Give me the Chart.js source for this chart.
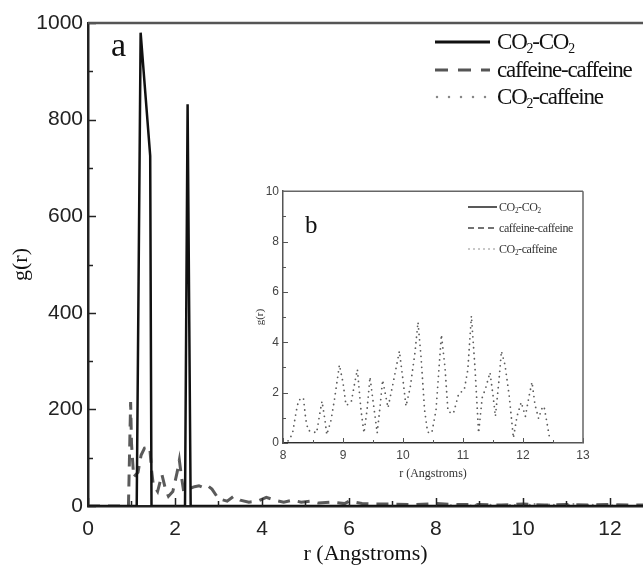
<!DOCTYPE html>
<html>
<head>
<meta charset="utf-8">
<script src="https://cdn.jsdelivr.net/npm/chart.js@4/dist/chart.umd.min.js"></script>
<style>
  body { margin: 0; background: #fff; }
  #wrap { position: relative; width: 643px; height: 571px; overflow: hidden; background: #fff; }
  #inset { position: absolute; left: 240px; top: 180px; }
  .serif { font-family: "Liberation Serif", "Times New Roman", serif; color: #111; }
  .lg { position: absolute; display: flex; align-items: center; white-space: nowrap; }
  .lg sub { font-size: 60%; vertical-align: -0.3em; line-height: 0; }
  .big { font-size: 23px; letter-spacing: -1.2px; height: 28px; }
  .small { font-size: 12px; letter-spacing: -0.4px; height: 16px; color: #333; }
  .tag { position: absolute; line-height: 1; }
</style>
</head>
<body>
<div id="wrap">
  <canvas id="main" width="643" height="571"></canvas>
  <canvas id="inset" width="370" height="305"></canvas>

  <div class="tag serif" style="left:111px; top:28px; font-size:34px;">a</div>
  <div class="tag serif" style="left:305px; top:212px; font-size:25px;">b</div>

  <div class="lg serif big" style="left:435px; top:28px;">
    <svg width="56" height="28"><line x1="0" y1="14" x2="55" y2="14" stroke="#111" stroke-width="3"/></svg>
    <span style="margin-left:6px">CO<sub>2</sub>-CO<sub>2</sub></span>
  </div>
  <div class="lg serif big" style="left:435px; top:56px;">
    <svg width="56" height="28"><line x1="0" y1="14" x2="55" y2="14" stroke="#555" stroke-width="3" stroke-dasharray="13 10"/></svg>
    <span style="margin-left:6px">caffeine-caffeine</span>
  </div>
  <div class="lg serif big" style="left:435px; top:83px;">
    <svg width="56" height="28"><line x1="2" y1="14" x2="55" y2="14" stroke="#888" stroke-width="2.5" stroke-linecap="round" stroke-dasharray="0 12"/></svg>
    <span style="margin-left:6px">CO<sub>2</sub>-caffeine</span>
  </div>

  <div class="lg serif small" style="left:468px; top:199px;">
    <svg width="30" height="16"><line x1="0" y1="8" x2="29" y2="8" stroke="#222" stroke-width="1.5"/></svg>
    <span style="margin-left:1px">CO<sub>2</sub>-CO<sub>2</sub></span>
  </div>
  <div class="lg serif small" style="left:468px; top:220px;">
    <svg width="30" height="16"><line x1="0" y1="8" x2="29" y2="8" stroke="#444" stroke-width="1.5" stroke-dasharray="6 4"/></svg>
    <span style="margin-left:1px">caffeine-caffeine</span>
  </div>
  <div class="lg serif small" style="left:468px; top:241px;">
    <svg width="30" height="16"><line x1="1" y1="8" x2="29" y2="8" stroke="#777" stroke-width="1.5" stroke-linecap="round" stroke-dasharray="0 5"/></svg>
    <span style="margin-left:1px">CO<sub>2</sub>-caffeine</span>
  </div>
</div>

<script>
// main panel (a): r in Angstroms, g(r)
const co2co2R = [0, 1.12, 1.21, 1.43, 1.46, 2.23, 2.29, 2.36, 12.8];
const co2co2G = [0, 0, 980, 725, 0, 0, 832, 0, 0];

const cafR = [0, 0.93, 0.98, 1.0, 1.05, 1.15, 1.22, 1.3, 1.42, 1.46, 1.5, 1.6, 1.7, 1.78, 1.85,
  1.95, 2.05, 2.1, 2.15, 2.2, 2.3, 2.45, 2.55, 2.65, 2.75, 2.85, 3.0, 3.2, 3.35, 3.5, 3.7,
  3.9, 4.1, 4.3, 4.5, 4.7, 4.9, 5.1, 5.3, 5.6, 5.9, 6.0, 6.3, 6.6, 7.0, 7.5, 8.0, 8.5, 9.0,
  9.5, 10.0, 10.5, 11.0, 11.5, 12.0, 12.5, 12.8];
const cafG = [0, 0, 215, 130, 60, 70, 105, 120, 122, 75, 45, 30, 65, 35, 20,
  30, 70, 95, 60, 30, 35, 40, 42, 38, 42, 35, 15, 10, 20, 12, 8,
  10, 18, 12, 8, 12, 8, 10, 6, 8, 5, 10, 5, 4, 4, 3, 5, 3, 3,
  2, 4, 2, 3, 2, 3, 2, 2];

// panel (b): CO2-caffeine
const co2cafR = [8.0, 8.1, 8.16, 8.22, 8.26, 8.34, 8.38, 8.42, 8.5, 8.56, 8.62, 8.65, 8.7, 8.73,
  8.8, 8.86, 8.94, 9.0, 9.05, 9.1, 9.14, 9.2, 9.24, 9.3, 9.35, 9.4, 9.45, 9.5, 9.57, 9.62,
  9.66, 9.71, 9.75, 9.83, 9.94, 10.0, 10.05, 10.12, 10.2, 10.25, 10.3, 10.36, 10.41, 10.48,
  10.55, 10.64, 10.7, 10.75, 10.84, 10.93, 11.02, 11.08, 11.14, 11.2, 11.26, 11.32, 11.38,
  11.45, 11.5, 11.54, 11.6, 11.64, 11.7, 11.77, 11.84, 11.9, 11.97, 12.04, 12.1, 12.15,
  12.2, 12.26, 12.31, 12.35, 12.4, 12.45];
const co2cafG = [0.0, 0.1, 0.4, 1.25, 1.7, 1.8, 0.93, 0.5, 0.45, 0.4, 1.26, 1.66, 0.9, 0.33,
  0.9, 1.76, 3.1, 2.4, 1.5, 1.55, 1.66, 2.45, 2.92, 1.3, 0.4, 1.3, 2.62, 1.68, 0.4, 1.5,
  2.5, 1.9, 1.4, 2.32, 3.65, 2.5, 1.46, 2.2, 3.6, 4.8, 3.44, 1.3, 0.43, 0.4,
  1.3, 4.3, 3.0, 1.25, 1.17, 1.97, 2.1, 2.9, 5.05, 2.98, 0.4, 1.8, 2.2,
  2.8, 1.9, 1.06, 2.5, 3.65, 3.1, 1.88, 0.2, 1.06, 1.62, 1.06, 1.85, 2.42,
  1.52, 0.97, 1.35, 1.46, 0.8, 0.1];

const insetZeroR = [8, 12.5];
const insetZeroG = [0, 0];

// tick labels
const mainXTicks = [0, 2, 4, 6, 8, 10, 12];
const mainYTicks = [0, 200, 400, 600, 800, 1000];
const insetXTicks = [8, 9, 10, 11, 12, 13];
const insetYTicks = [0, 2, 4, 6, 8, 10];

const pts = (xs, ys) => xs.map((x, i) => ({ x, y: ys[i] }));
const mids = arr => arr.slice(0, -1).map((v, i) => (v + arr[i + 1]) / 2);
const plain = v => String(v);

const sans = "'Liberation Sans Narrow', 'Arial Narrow', 'Liberation Sans', Arial, sans-serif";
const serif = "'Liberation Serif', 'Times New Roman', serif";

// inward tick marks + top frame line
const innerTicks = {
  id: 'innerTicks',
  afterDraw(chart, args, o) {
    const { ctx, chartArea: a, scales: { x, y } } = chart;
    ctx.save();
    ctx.strokeStyle = o.color;
    ctx.lineWidth = o.width;
    const seg = (x1, y1, x2, y2) => { ctx.beginPath(); ctx.moveTo(x1, y1); ctx.lineTo(x2, y2); ctx.stroke(); };
    const xt = (vals, len) => vals.forEach(v => {
      const p = Math.round(x.getPixelForValue(v)) + 0.5;
      seg(p, a.bottom, p, a.bottom - len);
    });
    const yt = (vals, len) => vals.forEach(v => {
      const p = Math.round(y.getPixelForValue(v)) + 0.5;
      seg(a.left, p, a.left + len, p);
    });
    xt(o.xMajor, o.major); xt(o.xMinor, o.minor);
    yt(o.yMajor, o.major); yt(o.yMinor, o.minor);
    ctx.strokeStyle = o.frameColor;
    ctx.lineWidth = o.frameWidth;
    seg(a.left, a.top, a.right, a.top);
    if (o.box) seg(a.right, a.top, a.right, a.bottom);
    ctx.restore();
  }
};

new Chart(document.getElementById('main'), {
  type: 'line',
  data: {
    datasets: [
      { label: 'CO2-CO2', data: pts(co2co2R, co2co2G), borderColor: '#111', borderWidth: 2.5 },
      { label: 'caffeine-caffeine', data: pts(cafR, cafG), borderColor: '#5a5a5a', borderWidth: 3, borderDash: [12, 8] },
      { label: 'CO2-caffeine', data: pts(co2cafR, co2cafG), borderColor: '#888', borderWidth: 2, borderDash: [0, 5], borderCapStyle: 'round' }
    ]
  },
  options: {
    responsive: false,
    animation: false,
    parsing: false,
    elements: { point: { radius: 0 }, line: { tension: 0 } },
    layout: { padding: { left: 0, top: 23, right: 0, bottom: 0 } },
    plugins: {
      legend: { display: false },
      tooltip: { enabled: false },
      innerTicks: {
        color: '#222', width: 1.5, major: 8, minor: 5, box: false,
        xMajor: mainXTicks, xMinor: mids(mainXTicks),
        yMajor: mainYTicks, yMinor: mids(mainYTicks),
        frameColor: '#555', frameWidth: 2.5
      }
    },
    scales: {
      x: {
        type: 'linear', min: 0, max: 12.76,
        afterBuildTicks: s => { s.ticks = mainXTicks.map(v => ({ value: v })); },
        afterFit: s => { s.height = 65; },
        grid: { display: false, drawTicks: false },
        border: { color: '#222', width: 2.5 },
        ticks: { padding: 11, color: '#222', callback: plain, font: { family: sans, size: 21 } },
        title: { display: true, text: 'r (Angstroms)', color: '#111', padding: { top: 0, bottom: 4 }, font: { family: serif, size: 22 } }
      },
      y: {
        type: 'linear', min: 0, max: 1000,
        afterBuildTicks: s => { s.ticks = mainYTicks.map(v => ({ value: v })); },
        afterFit: s => { s.width = 88; },
        grid: { display: false, drawTicks: false },
        border: { color: '#222', width: 2.5 },
        ticks: { padding: 5, color: '#222', callback: plain, font: { family: sans, size: 21 } },
        title: { display: true, text: 'g(r)', color: '#111', padding: { top: 8, bottom: 0 }, font: { family: serif, size: 22 } }
      }
    }
  },
  plugins: [innerTicks]
});

new Chart(document.getElementById('inset'), {
  type: 'line',
  data: {
    datasets: [
      { label: 'CO2-CO2', data: pts(insetZeroR, insetZeroG), borderColor: '#222', borderWidth: 1.5 },
      { label: 'caffeine-caffeine', data: pts(insetZeroR, insetZeroG), borderColor: '#444', borderWidth: 1.5, borderDash: [6, 4] },
      { label: 'CO2-caffeine', data: pts(co2cafR, co2cafG), borderColor: '#5c5c5c', borderWidth: 1.8, borderDash: [0, 5.5], borderCapStyle: 'round' }
    ]
  },
  options: {
    responsive: false,
    animation: false,
    parsing: false,
    elements: { point: { radius: 0 }, line: { tension: 0 } },
    layout: { padding: { left: 0, top: 10, right: 27, bottom: 0 } },
    plugins: {
      legend: { display: false },
      tooltip: { enabled: false },
      innerTicks: {
        color: '#555', width: 1, major: 5, minor: 3, box: true,
        xMajor: insetXTicks, xMinor: mids(insetXTicks),
        yMajor: insetYTicks, yMinor: mids(insetYTicks),
        frameColor: '#666', frameWidth: 1.5
      }
    },
    scales: {
      x: {
        type: 'linear', min: 8, max: 13,
        afterBuildTicks: s => { s.ticks = insetXTicks.map(v => ({ value: v })); },
        afterFit: s => { s.height = 42; },
        grid: { display: false, drawTicks: false },
        border: { color: '#555', width: 1.5 },
        ticks: { padding: 5, color: '#444', callback: plain, font: { family: sans, size: 12 } },
        title: { display: true, text: 'r (Angstroms)', color: '#333', padding: { top: 0, bottom: 4 }, font: { family: serif, size: 12 } }
      },
      y: {
        type: 'linear', min: 0, max: 10,
        afterBuildTicks: s => { s.ticks = insetYTicks.map(v => ({ value: v })); },
        afterFit: s => { s.width = 43; },
        grid: { display: false, drawTicks: false },
        border: { color: '#555', width: 1.5 },
        ticks: { padding: 4, color: '#444', callback: plain, font: { family: sans, size: 12 } },
        title: { display: true, text: 'g(r)', color: '#333', padding: { top: 14, bottom: 0 }, font: { family: serif, size: 11 } }
      }
    }
  },
  plugins: [innerTicks]
});
</script>
</body>
</html>
